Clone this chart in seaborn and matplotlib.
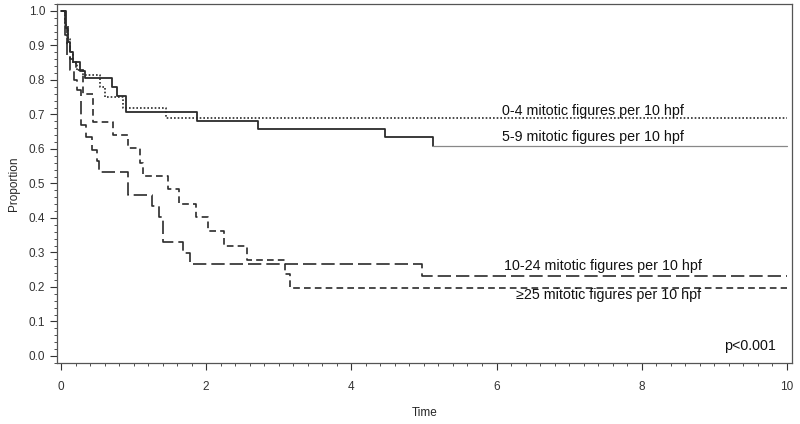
import numpy as np
import pandas as pd
import seaborn as sns
import matplotlib.pyplot as plt
from matplotlib.ticker import MultipleLocator

# Kaplan-Meier step curves (time, proportion)
t_04 = [0, 0.06, 0.09, 0.12, 0.16, 0.22, 0.30, 0.54, 0.61, 0.86, 1.45, 10]
p_04 = [1.0, 0.96, 0.92, 0.88, 0.85, 0.83, 0.814, 0.78, 0.752, 0.72, 0.689, 0.689]

t_59 = [0, 0.07, 0.10, 0.13, 0.17, 0.26, 0.33, 0.70, 0.77, 0.895, 1.87, 2.72, 4.46, 5.12]
p_59 = [1.0, 0.95, 0.91, 0.88, 0.853, 0.826, 0.807, 0.78, 0.754, 0.708, 0.682, 0.658, 0.636, 0.61]
t_59_tail = [5.12, 10]
p_59_tail = [0.61, 0.61]

t_1024 = [0, 0.05, 0.08, 0.12, 0.18, 0.22, 0.28, 0.35, 0.43, 0.49, 0.53, 0.93, 1.25,
          1.35, 1.41, 1.68, 1.78, 4.98, 10]
p_1024 = [1.0, 0.93, 0.87, 0.83, 0.80, 0.77, 0.67, 0.634, 0.597, 0.565, 0.534, 0.467, 0.435,
          0.402, 0.331, 0.297, 0.266, 0.232, 0.232]

t_25 = [0, 0.05, 0.08, 0.12, 0.20, 0.31, 0.445, 0.72, 0.93, 1.09, 1.13, 1.48, 1.63,
        1.86, 2.02, 2.25, 2.56, 3.09, 3.16, 10]
p_25 = [1.0, 0.95, 0.90, 0.86, 0.83, 0.76, 0.679, 0.64, 0.602, 0.558, 0.522, 0.483, 0.44,
        0.402, 0.362, 0.319, 0.278, 0.238, 0.198, 0.198]

labels = ["0-4 mitotic figures per 10 hpf", "5-9 mitotic figures per 10 hpf",
          "10-24 mitotic figures per 10 hpf", "\u226525 mitotic figures per 10 hpf"]

sns.set_style("ticks")
plt.rcParams["font.family"] = ["Liberation Sans", "DejaVu Sans"]

fig = plt.figure(figsize=(8, 4.24), dpi=100)
ax = fig.add_axes([0.07125, 0.144, 0.9187, 0.8466])

ink = "#2b2b2b"
sns.lineplot(x=t_04, y=p_04, ax=ax, drawstyle="steps-post", color=ink, lw=1.2,
             linestyle=(0, (1, 1.2)), sort=False)
sns.lineplot(x=t_59, y=p_59, ax=ax, drawstyle="steps-post", color=ink, lw=1.3, sort=False)
sns.lineplot(x=t_59_tail, y=p_59_tail, ax=ax, drawstyle="steps-post", color="#888888",
             lw=0.9, sort=False)
sns.lineplot(x=t_1024, y=p_1024, ax=ax, drawstyle="steps-post", color=ink, lw=1.2,
             linestyle=(0, (8, 3)), sort=False)
sns.lineplot(x=t_25, y=p_25, ax=ax, drawstyle="steps-post", color=ink, lw=1.2,
             linestyle=(0, (4, 2.5)), sort=False)

fs = 10.3
ax.text(6.08, 0.711, labels[0], fontsize=fs, va="center", color="#111111")
ax.text(6.08, 0.634, labels[1], fontsize=fs, va="center", color="#111111")
ax.text(6.10, 0.262, labels[2], fontsize=fs, va="center", color="#111111")
ax.text(6.27, 0.177, labels[3], fontsize=fs, va="center", color="#111111")
ax.text(9.85, 0.029, "p<0.001", fontsize=fs, va="center", ha="right", color="#111111")

ax.set_xlim(-0.055, 10.07)
ax.set_ylim(-0.0203, 1.0203)
ax.xaxis.set_major_locator(MultipleLocator(2))
ax.xaxis.set_minor_locator(MultipleLocator(0.2))
ax.yaxis.set_major_locator(MultipleLocator(0.1))
ax.yaxis.set_minor_locator(MultipleLocator(0.02))
ax.yaxis.set_major_formatter(plt.FormatStrFormatter("%.1f"))
ax.tick_params(which="major", length=5, width=0.8, labelsize=8.5, colors="#333333")
ax.tick_params(axis="x", which="major", pad=8)
ax.tick_params(which="minor", length=2.5, width=0.6, colors="#333333")
for s in ax.spines.values():
    s.set_color("#555555")
    s.set_linewidth(0.9)

ax.set_xlabel("Time", fontsize=8.5, labelpad=10)
ax.set_ylabel("Proportion", fontsize=8.5, labelpad=6)

fig.savefig("out.png", dpi=100)
